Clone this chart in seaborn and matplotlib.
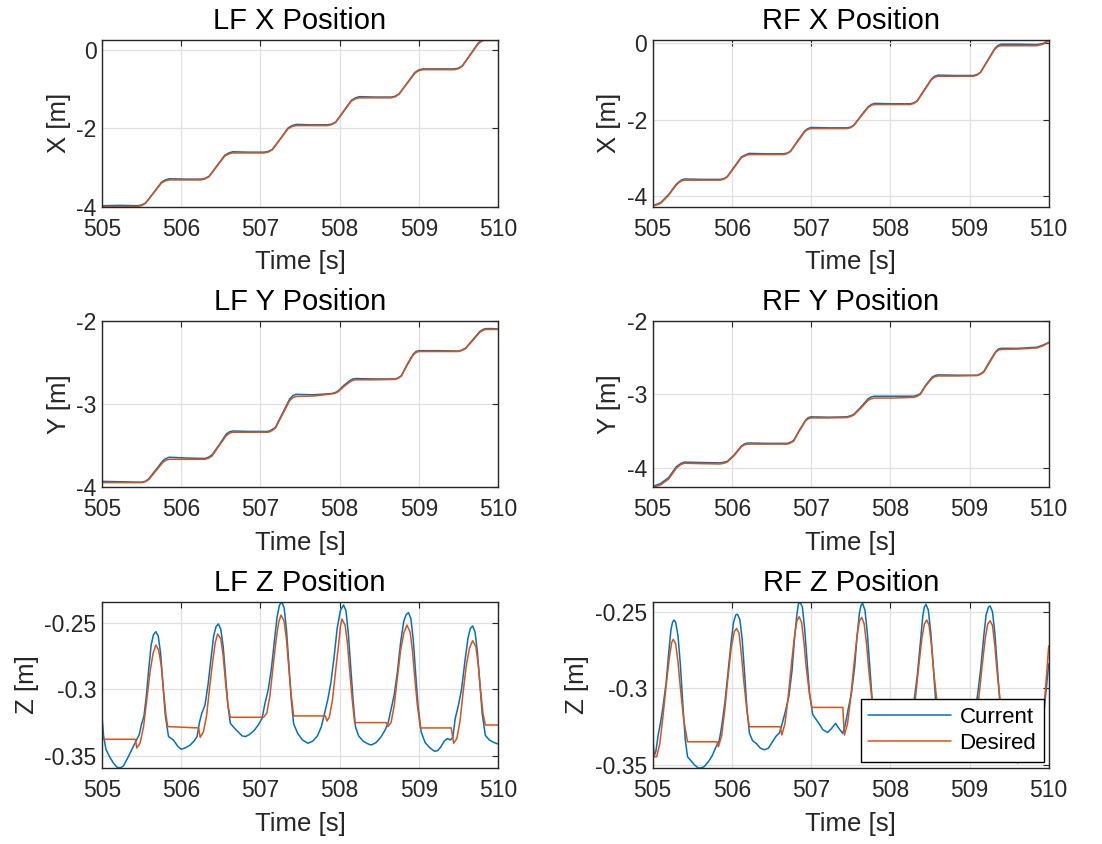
import matplotlib
matplotlib.use("Agg")
import matplotlib.pyplot as plt
import numpy as np
import pandas as pd
import seaborn as sns

# ---------------- data ----------------
x_ticks = [505, 506, 507, 508, 509, 510]

# LF X
t_lfx = [505.00, 505.22, 505.45, 505.50, 505.55, 505.65, 505.75, 505.80, 505.85, 506.05,
         506.25, 506.30, 506.35, 506.45, 506.55, 506.60, 506.65, 506.85,
         507.05, 507.10, 507.15, 507.25, 507.35, 507.40, 507.45, 507.65,
         507.85, 507.90, 507.95, 508.05, 508.15, 508.20, 508.25, 508.45,
         508.65, 508.70, 508.75, 508.85, 508.95, 509.00, 509.05, 509.25,
         509.45, 509.50, 509.55, 509.65, 509.75, 509.79, 509.82, 509.91, 510.00]
lfx_des = [-4.00, -4.00, -4.00, -3.975, -3.92, -3.66, -3.40, -3.345, -3.32, -3.32,
           -3.32, -3.295, -3.24, -2.975, -2.71, -2.655, -2.63, -2.63,
           -2.63, -2.605, -2.55, -2.28, -2.01, -1.955, -1.93, -1.93,
           -1.93, -1.905, -1.85, -1.575, -1.30, -1.245, -1.22, -1.22,
           -1.22, -1.195, -1.13, -0.86, -0.59, -0.525, -0.50, -0.50,
           -0.50, -0.475, -0.41, -0.125, 0.16, 0.225, 0.25, 0.25, 0.25]
lfx_cur = [-3.98, -3.97, -3.98, -3.96, -3.91, -3.65, -3.38, -3.32, -3.29, -3.30,
           -3.30, -3.28, -3.23, -2.96, -2.69, -2.63, -2.60, -2.61,
           -2.61, -2.59, -2.54, -2.27, -1.99, -1.93, -1.90, -1.91,
           -1.91, -1.89, -1.84, -1.56, -1.28, -1.22, -1.19, -1.20,
           -1.20, -1.18, -1.12, -0.85, -0.57, -0.505, -0.48, -0.48,
           -0.48, -0.46, -0.40, -0.11, 0.18, 0.25, 0.28, 0.28, 0.27]

# RF X
t_rfx = [505.00, 505.10, 505.20, 505.30, 505.36, 505.40, 505.62,
         505.85, 505.90, 505.94, 506.03, 506.12, 506.18, 506.22, 506.43,
         506.65, 506.70, 506.74, 506.83, 506.92, 506.96, 507.00, 507.22,
         507.45, 507.50, 507.54, 507.63, 507.72, 507.76, 507.80, 508.02,
         508.25, 508.30, 508.34, 508.43, 508.52, 508.56, 508.60, 508.82,
         509.05, 509.10, 509.14, 509.23, 509.32, 509.36, 509.40, 509.62,
         509.85, 509.93, 510.00]
rfx_des = [-4.26, -4.19, -3.98, -3.70, -3.60, -3.58, -3.58,
           -3.58, -3.555, -3.50, -3.25, -2.99, -2.93, -2.91, -2.91,
           -2.91, -2.885, -2.83, -2.57, -2.31, -2.25, -2.23, -2.23,
           -2.23, -2.205, -2.15, -1.91, -1.68, -1.62, -1.60, -1.60,
           -1.60, -1.57, -1.51, -1.23, -0.95, -0.885, -0.86, -0.86,
           -0.86, -0.825, -0.76, -0.455, -0.15, -0.08, -0.06, -0.06,
           -0.06, -0.02, 0.07]
rfx_cur = [-4.25, -4.17, -3.96, -3.68, -3.58, -3.55, -3.56,
           -3.56, -3.54, -3.49, -3.23, -2.97, -2.91, -2.88, -2.89,
           -2.89, -2.87, -2.82, -2.55, -2.29, -2.23, -2.20, -2.21,
           -2.21, -2.19, -2.14, -1.89, -1.66, -1.60, -1.57, -1.58,
           -1.58, -1.555, -1.50, -1.21, -0.93, -0.86, -0.83, -0.84,
           -0.84, -0.81, -0.75, -0.44, -0.13, -0.05, -0.02, -0.02,
           -0.03, 0.00, 0.08]

# LF Y
t_lfy = [505.00, 505.25, 505.50, 505.545, 505.59, 505.68, 505.77, 505.81, 505.85, 506.07,
         506.30, 506.345, 506.39, 506.48, 506.57, 506.61, 506.65, 506.87,
         507.10, 507.145, 507.19, 507.28, 507.37, 507.41, 507.45, 507.67,
         507.90, 507.94, 507.98, 508.05, 508.13, 508.165, 508.20, 508.45,
         508.70, 508.74, 508.78, 508.85, 508.93, 508.965, 509.00, 509.25,
         509.50, 509.545, 509.59, 509.68, 509.77, 509.81, 509.85, 509.93, 510.00]
lfy_des = [-3.945, -3.945, -3.945, -3.935, -3.91, -3.805, -3.70, -3.675, -3.665, -3.665,
           -3.665, -3.652, -3.625, -3.50, -3.38, -3.352, -3.34, -3.34,
           -3.34, -3.322, -3.29, -3.125, -2.96, -2.925, -2.91, -2.905,
           -2.88, -2.872, -2.855, -2.795, -2.735, -2.718, -2.71, -2.71,
           -2.705, -2.692, -2.665, -2.54, -2.41, -2.382, -2.37, -2.37,
           -2.37, -2.358, -2.335, -2.24, -2.14, -2.115, -2.105, -2.105, -2.105]
lfy_cur = [-3.93, -3.935, -3.94, -3.93, -3.90, -3.79, -3.68, -3.655, -3.64, -3.65,
           -3.655, -3.64, -3.61, -3.49, -3.36, -3.335, -3.325, -3.33,
           -3.33, -3.31, -3.28, -3.11, -2.94, -2.90, -2.885, -2.89,
           -2.875, -2.865, -2.845, -2.78, -2.72, -2.70, -2.695, -2.70,
           -2.70, -2.685, -2.66, -2.53, -2.40, -2.37, -2.36, -2.36,
           -2.365, -2.352, -2.33, -2.23, -2.13, -2.105, -2.095, -2.095, -2.10]

# RF Y
t_rfy = [505.00, 505.10, 505.20, 505.30, 505.36, 505.40, 505.62,
         505.85, 505.90, 505.94, 506.03, 506.12, 506.16, 506.20, 506.45,
         506.70, 506.74, 506.78, 506.85, 506.93, 506.965, 507.00, 507.22,
         507.45, 507.50, 507.54, 507.63, 507.72, 507.76, 507.80, 508.05,
         508.30, 508.34, 508.38, 508.45, 508.53, 508.565, 508.60, 508.85,
         509.10, 509.14, 509.18, 509.25, 509.33, 509.365, 509.40, 509.62,
         509.85, 509.93, 510.00]
rfy_des = [-4.26, -4.23, -4.15, -4.00, -3.95, -3.935, -3.94,
           -3.945, -3.935, -3.92, -3.83, -3.71, -3.685, -3.675, -3.675,
           -3.675, -3.66, -3.635, -3.50, -3.36, -3.33, -3.32, -3.32,
           -3.315, -3.30, -3.28, -3.185, -3.08, -3.06, -3.05, -3.05,
           -3.04, -3.025, -3.00, -2.88, -2.78, -2.76, -2.75, -2.75,
           -2.745, -2.728, -2.70, -2.575, -2.43, -2.40, -2.39, -2.385,
           -2.37, -2.34, -2.30]
rfy_cur = [-4.25, -4.21, -4.13, -3.98, -3.935, -3.92, -3.925,
           -3.93, -3.92, -3.91, -3.82, -3.70, -3.672, -3.66, -3.665,
           -3.665, -3.65, -3.625, -3.49, -3.35, -3.315, -3.305, -3.31,
           -3.305, -3.29, -3.27, -3.17, -3.06, -3.035, -3.025, -3.025,
           -3.025, -3.01, -2.99, -2.87, -2.765, -2.745, -2.735, -2.74,
           -2.74, -2.72, -2.69, -2.56, -2.42, -2.385, -2.375, -2.375,
           -2.36, -2.33, -2.295]

# LF Z
t_lfz_des = [505.00, 505.01, 505.42, 505.44,
             505.48, 505.525, 505.57, 505.61, 505.645, 505.68, 505.715, 505.75, 505.78, 505.81, 505.83,
             506.22, 506.24,
             506.28, 506.32, 506.36, 506.40, 506.43, 506.46, 506.50, 506.53, 506.56, 506.59, 506.62,
             507.04,
             507.08, 507.12, 507.16, 507.20, 507.23, 507.26, 507.30, 507.33, 507.36, 507.39, 507.42,
             507.82, 507.84,
             507.87, 507.91, 507.95, 507.99, 508.01, 508.03, 508.07, 508.10, 508.13, 508.16, 508.19,
             508.59, 508.61,
             508.65, 508.69, 508.73, 508.77, 508.81, 508.85, 508.89, 508.92, 508.95, 508.98, 509.02,
             509.41, 509.44,
             509.48, 509.52, 509.56, 509.60, 509.64, 509.68, 509.72, 509.75, 509.78, 509.81, 509.84,
             510.00]
lfz_des = [-0.325, -0.3375, -0.3375, -0.344,
           -0.3405, -0.328, -0.3055, -0.2855, -0.273, -0.2668, -0.2705, -0.283, -0.303, -0.3205, -0.328,
           -0.329, -0.336,
           -0.332, -0.320, -0.298, -0.278, -0.265, -0.2585, -0.262, -0.275, -0.295, -0.312, -0.321,
           -0.321,
           -0.318, -0.305, -0.283, -0.262, -0.250, -0.2443, -0.249, -0.263, -0.285, -0.305, -0.320,
           -0.320, -0.3238,
           -0.321, -0.308, -0.286, -0.265, -0.253, -0.2473, -0.252, -0.266, -0.288, -0.308, -0.325,
           -0.325, -0.328,
           -0.325, -0.312, -0.291, -0.271, -0.258, -0.2518, -0.257, -0.271, -0.292, -0.311, -0.329,
           -0.329, -0.3405,
           -0.337, -0.324, -0.302, -0.282, -0.269, -0.2635, -0.268, -0.281, -0.301, -0.318, -0.3268,
           -0.3268]
t_lfz_cur = [505.00, 505.02, 505.05, 505.09, 505.14, 505.19, 505.23, 505.27, 505.32, 505.37,
             505.42, 505.47, 505.50, 505.53, 505.56, 505.59, 505.62, 505.65, 505.68, 505.71,
             505.74, 505.77, 505.80, 505.84, 505.90, 505.96, 506.00, 506.05, 506.11, 506.16,
             506.20, 506.23, 506.26, 506.30, 506.34, 506.38, 506.41, 506.44, 506.47, 506.50,
             506.53, 506.56, 506.59, 506.62, 506.67, 506.72, 506.77, 506.81, 506.86, 506.92,
             506.97, 507.02, 507.06, 507.10, 507.14, 507.18, 507.21, 507.24, 507.27, 507.30,
             507.33, 507.36, 507.39, 507.42, 507.47, 507.53, 507.60, 507.66, 507.72, 507.77,
             507.81, 507.85, 507.89, 507.93, 507.97, 508.01, 508.05, 508.08, 508.11, 508.14,
             508.17, 508.20, 508.24, 508.30, 508.36, 508.40, 508.46, 508.52, 508.57, 508.61,
             508.65, 508.69, 508.73, 508.77, 508.81, 508.84, 508.87, 508.90, 508.93, 508.96,
             508.99, 509.03, 509.08, 509.14, 509.20, 509.24, 509.28, 509.32, 509.36, 509.40,
             509.43, 509.46, 509.50, 509.54, 509.58, 509.62, 509.65, 509.68, 509.71, 509.74,
             509.77, 509.80, 509.84, 509.89, 509.95, 510.00]
lfz_cur = [-0.3205, -0.335, -0.345, -0.350, -0.355, -0.3585, -0.359, -0.3575, -0.352, -0.346,
           -0.340, -0.334, -0.326, -0.320, -0.305, -0.285, -0.267, -0.259, -0.2568, -0.260,
           -0.273, -0.297, -0.320, -0.3355, -0.338, -0.343, -0.345, -0.344, -0.342, -0.339,
           -0.3355, -0.325, -0.318, -0.312, -0.296, -0.275, -0.260, -0.253, -0.251, -0.255,
           -0.268, -0.290, -0.312, -0.3255, -0.329, -0.332, -0.335, -0.3355, -0.334, -0.331,
           -0.327, -0.322, -0.310, -0.300, -0.284, -0.262, -0.246, -0.237, -0.2343, -0.239,
           -0.256, -0.282, -0.308, -0.326, -0.333, -0.338, -0.3405, -0.339, -0.335, -0.328,
           -0.318, -0.308, -0.295, -0.276, -0.254, -0.241, -0.2368, -0.241, -0.258, -0.283,
           -0.308, -0.328, -0.335, -0.339, -0.341, -0.3418, -0.340, -0.336, -0.331, -0.326,
           -0.315, -0.304, -0.287, -0.265, -0.249, -0.244, -0.2425, -0.247, -0.263, -0.288,
           -0.312, -0.332, -0.340, -0.344, -0.3465, -0.346, -0.343, -0.339, -0.337, -0.338,
           -0.336, -0.322, -0.312, -0.300, -0.280, -0.262, -0.2545, -0.2525, -0.257, -0.272,
           -0.295, -0.318, -0.3345, -0.338, -0.340, -0.341]

# RF Z
t_rfz_des = [505.00, 505.02, 505.05,
             505.09, 505.13, 505.17, 505.21, 505.24, 505.26, 505.29, 505.32, 505.35, 505.39, 505.44,
             505.81, 505.83,
             505.87, 505.91, 505.95, 505.99, 506.03, 506.06, 506.09, 506.12, 506.15, 506.19, 506.22,
             506.61, 506.63,
             506.67, 506.71, 506.75, 506.79, 506.82, 506.85, 506.88, 506.91, 506.94, 506.98, 507.01,
             507.40, 507.42,
             507.46, 507.50, 507.54, 507.58, 507.61, 507.64, 507.67, 507.70, 507.73, 507.77, 507.81,
             508.22, 508.24,
             508.28, 508.32, 508.36, 508.40, 508.43, 508.46, 508.49, 508.52, 508.55, 508.59, 508.62,
             509.02, 509.04,
             509.08, 509.12, 509.16, 509.20, 509.23, 509.26, 509.29, 509.32, 509.35, 509.39, 509.42,
             509.85, 509.88, 509.92, 509.96, 510.00]
rfz_des = [-0.3304, -0.3446, -0.3446,
           -0.336, -0.318, -0.298, -0.280, -0.270, -0.268, -0.271, -0.283, -0.300, -0.320, -0.3348,
           -0.3348, -0.338,
           -0.331, -0.314, -0.293, -0.274, -0.263, -0.2609, -0.264, -0.278, -0.295, -0.315, -0.325,
           -0.325, -0.3304,
           -0.323, -0.306, -0.285, -0.266, -0.256, -0.2533, -0.257, -0.270, -0.287, -0.304, -0.3124,
           -0.3124, -0.3304,
           -0.323, -0.306, -0.285, -0.266, -0.256, -0.2537, -0.258, -0.271, -0.289, -0.308, -0.322,
           -0.322, -0.328,
           -0.321, -0.305, -0.285, -0.267, -0.258, -0.2554, -0.259, -0.272, -0.290, -0.309, -0.322,
           -0.322, -0.329,
           -0.321, -0.305, -0.285, -0.267, -0.258, -0.2559, -0.259, -0.272, -0.290, -0.309, -0.325,
           -0.325, -0.332, -0.322, -0.300, -0.2724]
t_rfz_cur = [505.00, 505.02, 505.04, 505.07, 505.10, 505.13, 505.17, 505.20, 505.23, 505.25,
             505.27, 505.29, 505.32, 505.35, 505.38, 505.41, 505.44, 505.48, 505.53, 505.58,
             505.61, 505.65, 505.70, 505.75, 505.80, 505.84, 505.87, 505.91, 505.95, 505.99,
             506.02, 506.05, 506.07, 506.10, 506.13, 506.16, 506.19, 506.22, 506.26, 506.31,
             506.36, 506.41, 506.46, 506.51, 506.56, 506.60, 506.64, 506.68, 506.72, 506.76,
             506.79, 506.82, 506.84, 506.86, 506.89, 506.92, 506.95, 506.98, 507.02, 507.06,
             507.10, 507.15, 507.21, 507.26, 507.31, 507.35, 507.40, 507.43, 507.47, 507.51,
             507.55, 507.58, 507.61, 507.63, 507.65, 507.68, 507.71, 507.74, 507.77, 507.81,
             507.90, 508.05, 508.20, 508.26, 508.30, 508.34, 508.38, 508.41, 508.43, 508.45,
             508.48, 508.51, 508.54, 508.57, 508.62, 508.75, 508.90, 509.02, 509.06, 509.10,
             509.14, 509.18, 509.21, 509.24, 509.26, 509.29, 509.32, 509.35, 509.38, 509.43,
             509.50, 509.56, 509.61, 509.68, 509.77, 509.87, 509.93, 509.97, 510.00]
rfz_cur = [-0.338, -0.344, -0.341, -0.330, -0.322, -0.312, -0.296, -0.278, -0.262, -0.257,
           -0.2554, -0.257, -0.266, -0.285, -0.310, -0.333, -0.3446, -0.347, -0.350, -0.352,
           -0.3518, -0.351, -0.348, -0.344, -0.338, -0.334, -0.325, -0.310, -0.290, -0.270,
           -0.257, -0.252, -0.2517, -0.255, -0.268, -0.290, -0.313, -0.329, -0.334, -0.336,
           -0.339, -0.340, -0.339, -0.335, -0.331, -0.329, -0.322, -0.314, -0.305, -0.288,
           -0.268, -0.252, -0.245, -0.2436, -0.247, -0.262, -0.283, -0.303, -0.317, -0.320,
           -0.323, -0.327, -0.3287, -0.326, -0.3228, -0.326, -0.3293, -0.324, -0.313, -0.303,
           -0.286, -0.266, -0.251, -0.246, -0.2446, -0.249, -0.264, -0.285, -0.307, -0.327,
           -0.335, -0.338, -0.330, -0.320, -0.308, -0.292, -0.270, -0.253, -0.247, -0.2452,
           -0.249, -0.263, -0.284, -0.306, -0.327, -0.337, -0.336, -0.329, -0.318, -0.305,
           -0.288, -0.266, -0.252, -0.247, -0.2463, -0.250, -0.264, -0.285, -0.307, -0.330,
           -0.341, -0.347, -0.3485, -0.346, -0.341, -0.336, -0.320, -0.300, -0.284]

titles = ["LF X Position", "RF X Position", "LF Y Position", "RF Y Position",
          "LF Z Position", "RF Z Position"]
ylabels = ["X [m]", "X [m]", "Y [m]", "Y [m]", "Z [m]", "Z [m]"]
yticks = [[-4, -2, 0], [-4, -2, 0], [-4, -3, -2], [-4, -3, -2],
          [-0.35, -0.3, -0.25], [-0.35, -0.3, -0.25]]
ylims = [(-4.0, 0.26), (-4.27, 0.09), (-4.0, -2.0), (-4.26, -2.0),
         (-0.3592, -0.2343), (-0.352, -0.2435)]
series_names = ["Current", "Desired"]

panels = [
    (t_lfx, lfx_cur, t_lfx, lfx_des),
    (t_rfx, rfx_cur, t_rfx, rfx_des),
    (t_lfy, lfy_cur, t_lfy, lfy_des),
    (t_rfy, rfy_cur, t_rfy, rfy_des),
    (t_lfz_cur, lfz_cur, t_lfz_des, lfz_des),
    (t_rfz_cur, rfz_cur, t_rfz_des, rfz_des),
]

# ---------------- style ----------------
sns.set_theme(style="white")
plt.rcParams['font.family'] = ['Liberation Sans', 'DejaVu Sans']
plt.rcParams['axes.unicode_minus'] = False

BLUE = "#0072BD"
ORANGE = "#D95319"
AX_COL = "#262626"

fig = plt.figure(figsize=(11.02, 8.44), dpi=100)
W, H = 1102.0, 844.0
lefts = [102.0, 652.7]
tops = [40.0, 320.7, 601.7]
aw, ah = 396.0, 166.5

for i, (tc, vc, td, vd) in enumerate(panels):
    r, c = divmod(i, 2)
    ax = fig.add_axes([lefts[c] / W, 1 - (tops[r] + ah) / H, aw / W, ah / H])
    df_c = pd.DataFrame({"t": tc, "v": vc})
    df_d = pd.DataFrame({"t": td, "v": vd})
    sns.lineplot(data=df_c, x="t", y="v", ax=ax, color=BLUE, lw=1.1,
                 estimator=None, sort=False, label=series_names[0])
    sns.lineplot(data=df_d, x="t", y="v", ax=ax, color=ORANGE, lw=1.1,
                 estimator=None, sort=False, label=series_names[1])
    ax.set_xlim(505, 510)
    ax.set_ylim(*ylims[i])
    ax.set_xticks(x_ticks)
    ax.set_xticklabels([str(v) for v in x_ticks])
    ax.set_yticks(yticks[i])
    ax.set_yticklabels(["%g" % v for v in yticks[i]])
    ax.grid(True, color="#e0e0e0", lw=0.9)
    ax.set_axisbelow(True)
    for s in ax.spines.values():
        s.set_color(AX_COL)
        s.set_linewidth(1.0)
    ax.tick_params(direction="in", top=True, right=True, length=4, width=0.8,
                   color=AX_COL, labelcolor=AX_COL, labelsize=16.5)
    ax.tick_params(axis="x", pad=8)
    ax.tick_params(axis="y", pad=4)
    ax.set_title(titles[i], fontsize=21, fontweight="normal", color="black", pad=8)
    ax.set_xlabel("Time [s]", fontsize=18.5, color=AX_COL, labelpad=7)
    ax.set_ylabel(ylabels[i], fontsize=18.5, color=AX_COL, labelpad=4)
    leg = ax.get_legend()
    if i == 5:
        leg = ax.legend(loc="lower right", bbox_to_anchor=(0.988, 0.038),
                        borderaxespad=0, fontsize=16, frameon=True, fancybox=False,
                        framealpha=1, edgecolor="black", handlelength=3.7,
                        handletextpad=0.4, labelspacing=0.25, borderpad=0.35)
        leg.get_frame().set_linewidth(1.0)
        for txt in leg.get_texts():
            txt.set_color("black")
    elif leg is not None:
        leg.remove()

fig.savefig("out.png", dpi=100)
